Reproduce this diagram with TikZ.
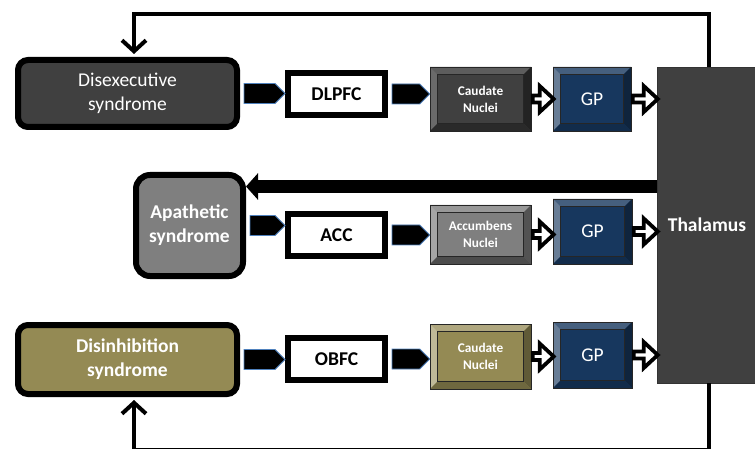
\documentclass[tikz,border=0pt]{standalone}
\usepackage{fontspec}
\setmainfont{Carlito}
\usetikzlibrary{arrows.meta,calc}
\definecolor{dk}{HTML}{404040}
\definecolor{gr}{HTML}{7F7F7F}
\definecolor{ol}{HTML}{948A54}
\definecolor{nv}{HTML}{17375E}
\definecolor{pblue}{HTML}{4F81BD}
\newcommand\fbig{\fontsize{19.5}{24}\selectfont}
\newcommand\fsml{\fontsize{13.3}{17}\selectfont\bfseries}
\newcommand\pentarrow[2]{%
  \filldraw[fill=black, draw=pblue, line width=0.8pt]
   ($(#1.east)+(4pt,10pt)$) -- ($(#2.west |- #1.east)+(-10pt,10pt)$) --
   (#2.west |- #1.east) -- ($(#2.west |- #1.east)+(-10pt,-10pt)$) --
   ($(#1.east)+(4pt,-10pt)$) -- cycle;}
\newcommand\holarrow[2]{%
  \draw[line width=3.8pt, fill=white, line join=miter]
   ($(#1.east)+(1.5pt,3.5pt)$) -- ($(#2.west |- #1.east)+(-13pt,3.5pt)$) --
   ($(#2.west |- #1.east)+(-13pt,13pt)$) -- ($(#2.west |- #1.east)+(1pt,0pt)$) --
   ($(#2.west |- #1.east)+(-13pt,-13pt)$) -- ($(#2.west |- #1.east)+(-13pt,-3.5pt)$) --
   ($(#1.east)+(1.5pt,-3.5pt)$) -- cycle;}
\tikzset{
  synd/.style={draw=black, line width=6pt, rounded corners=10pt, text=white, align=center, inner sep=0pt},
  cortex/.style={draw=black, line width=6pt, fill=white, font=\fbig\bfseries, inner sep=0pt,
    minimum width=97pt, minimum height=42pt},
  bev/.style n args={5}{fill=#1, draw=black!85, line width=0.6pt, inner sep=0pt, text=white, align=center,
    path picture={
      \fill[#2] (path picture bounding box.north west) -- (path picture bounding box.north east)
        -- ([shift={(-7.5pt,-7.5pt)}]path picture bounding box.north east)
        -- ([shift={(7.5pt,-7.5pt)}]path picture bounding box.north west) -- cycle;
      \fill[#3] (path picture bounding box.north west) -- (path picture bounding box.south west)
        -- ([shift={(7.5pt,7.5pt)}]path picture bounding box.south west)
        -- ([shift={(7.5pt,-7.5pt)}]path picture bounding box.north west) -- cycle;
      \fill[#4] (path picture bounding box.north east) -- (path picture bounding box.south east)
        -- ([shift={(-7.5pt,7.5pt)}]path picture bounding box.south east)
        -- ([shift={(-7.5pt,-7.5pt)}]path picture bounding box.north east) -- cycle;
      \fill[#5] (path picture bounding box.south west) -- (path picture bounding box.south east)
        -- ([shift={(-7.5pt,7.5pt)}]path picture bounding box.south east)
        -- ([shift={(7.5pt,7.5pt)}]path picture bounding box.south west) -- cycle;
      \draw[black!85, line width=0.6pt] ([shift={(7.5pt,-7.5pt)}]path picture bounding box.north west)
        rectangle ([shift={(-7.5pt,7.5pt)}]path picture bounding box.south east);
    }},
  gpbox/.style={bev={nv}{nv!80!white}{nv!65!white}{nv!65!black}{nv!80!black}, font=\fbig},
  fb/.style={line width=4pt, -{Straight Barb[length=11pt,width=24pt]}},
}
\begin{document}
\begin{tikzpicture}[x=1pt,y=-1pt]
\useasboundingbox (0,0) rectangle (755,449);
% thalamus
\node[fill=dk, draw=black!80, line width=0.5pt, inner sep=0pt, minimum width=100pt, minimum height=316pt,
  text=white, font=\fbig\bfseries] (thal) at (707,225) {Thalamus};
% row 1
\node[synd, fill=dk, font=\fbig, minimum width=219pt, minimum height=67pt] (dis) at (127.5,93.5) {Disexecutive\\syndrome};
\node[cortex] (dlpfc) at (336.5,94) {DLPFC};
\node[bev={dk}{dk!85!white}{dk!78!white}{dk!55!black}{dk!65!black}, font=\fsml, minimum width=101pt, minimum height=64pt] (cau1) at (480.5,99) {Caudate\\Nuclei};
\node[gpbox, minimum width=78pt, minimum height=64pt] (gp1) at (592,99) {GP};
% row 2
\node[synd, fill=gr, font=\fbig\bfseries, rounded corners=14pt, minimum width=107pt, minimum height=101pt] (apa) at (189.5,225.5) {Apathetic\\syndrome};
\node[cortex] (acc) at (336.5,235) {ACC};
\node[bev={gr}{gr!80!white}{gr!70!white}{gr!65!black}{gr!60!black}, font=\fsml, minimum width=101pt, minimum height=59pt] (acb) at (480.5,234.5) {Accumbens\\Nuclei};
\node[gpbox, minimum width=79pt, minimum height=65pt] (gp2) at (592.5,231.5) {GP};
% row 3
\node[synd, fill=ol, font=\fbig\bfseries, minimum width=219pt, minimum height=69pt] (disi) at (127.5,359.5) {Disinhibition\\syndrome};
\node[cortex] (obfc) at (336.5,359) {OBFC};
\node[bev={ol}{ol!75!white}{ol!60!white}{ol!65!black}{ol!75!black}, font=\fsml, minimum width=101pt, minimum height=65pt] (cau3) at (480.5,356.5) {Caudate\\Nuclei};
\node[gpbox, minimum width=79pt, minimum height=66pt] (gp3) at (592.5,355) {GP};
% forward arrows
\pentarrow{dis}{dlpfc}
\pentarrow{dlpfc}{cau1}
\pentarrow{apa}{acc}
\pentarrow{acc}{acb}
\pentarrow{disi}{obfc}
\pentarrow{obfc}{cau3}
\holarrow{cau1}{gp1}
\holarrow{gp1}{thal}
\holarrow{acb}{gp2}
\holarrow{gp2}{thal}
\holarrow{cau3}{gp3}
\holarrow{gp3}{thal}
% feedback loops
\coordinate (ttop) at (709,14.5);
\coordinate (ltop) at (134,14.5);
\draw[fb, shorten >=3pt] (thal.north -| ttop) -- (ttop) -- (ltop) -- (dis.north -| ltop);
\coordinate (tbot) at (709,449.5);
\coordinate (lbot) at (134,449.5);
\draw[fb, shorten >=3pt] (thal.south -| tbot) -- (tbot) -- (lbot) -- (disi.south -| lbot);
\coordinate (mfb) at (657,186.5);
\draw[line width=13pt, -{Triangle[length=12pt,width=26pt]}] (mfb) -- (apa.east |- mfb);
\end{tikzpicture}
\end{document}
